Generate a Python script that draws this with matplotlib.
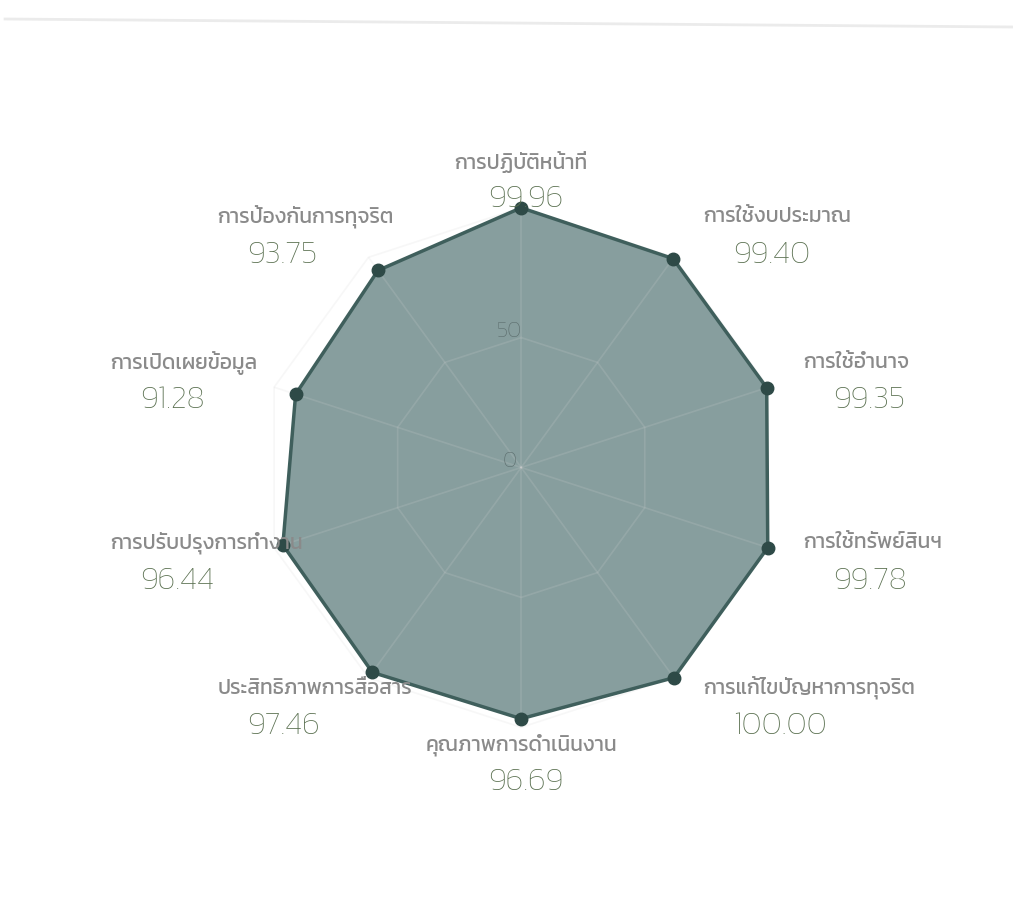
import numpy as np
import matplotlib
matplotlib.use("Agg")
import matplotlib.pyplot as plt
from matplotlib.lines import Line2D

# scores per category, clockwise from the top
categories = [
    "การปฏิบัติหน้าที่",
    "การใช้งบประมาณ",
    "การใช้อำนาจ",
    "การใช้ทรัพย์สินฯ",
    "การแก้ไขปัญหาการทุจริต",
    "คุณภาพการดำเนินงาน",
    "ประสิทธิภาพการสื่อสาร",
    "การปรับปรุงการทำงาน",
    "การเปิดเผยข้อมูล",
    "การป้องกันการทุจริต",
]
scores = [99.96, 99.40, 99.35, 99.78, 100.00, 96.69, 97.46, 96.44, 91.28, 93.75]
grid_levels = [50, 100]
tick_levels = [0, 50]

plt.rcParams['font.family'] = ['Kanit', 'Prompt', 'IBM Plex Sans Thai', 'DejaVu Sans']

FILL = '#879e9e'
EDGE = '#3f5f5c'
POINT = '#2e4a47'
NAME_COLOR = '#8a8a8a'
VALUE_COLOR = '#5a7050'

fig = plt.figure(figsize=(10.13, 9.23), dpi=100)
ax = fig.add_axes([0.258, 0.212, 0.513, 0.563], projection='polar')
ax.set_theta_zero_location('N')
ax.set_theta_direction(-1)
ax.set_ylim(0, 100)
ax.set_axis_off()

n = len(categories)
angles = np.linspace(0, 2 * np.pi, n, endpoint=False)
closed_a = np.append(angles, angles[0])
closed_s = np.append(scores, scores[0])

# data polygon
ax.fill(closed_a, closed_s, color=FILL, zorder=2, clip_on=False)
ax.plot(closed_a, closed_s, color=EDGE, linewidth=2.5, zorder=4, clip_on=False)
ax.plot(angles, scores, 'o', color=POINT, markersize=9, zorder=5, clip_on=False)

# polygon grid on top, faint
for lvl in grid_levels:
    ax.plot(closed_a, [lvl] * (n + 1), color='#d4d4d4', alpha=0.18,
            linewidth=1.2, zorder=3, clip_on=False)
for a in angles:
    ax.plot([a, a], [0, 100], color='#d4d4d4', alpha=0.18, linewidth=1.2, zorder=3)

for lvl in tick_levels:
    ax.annotate(str(lvl), xy=(0, lvl), xytext=(-12, 6), textcoords='offset pixels',
                ha='center', va='center', fontsize=16, fontweight='light',
                color='#5a6b6b', zorder=6)

# point labels: name + value
inv = fig.transFigure.inverted()
for i, (name, val) in enumerate(zip(categories, scores)):
    th = angles[i]
    vx, vy = ax.transData.transform((th, 100))
    s, c = np.sin(th), np.cos(th)
    cy = vy - (4.5 - 31.5 * c)
    name_y = cy + 19
    val_y = cy - 19
    if abs(s) < 0.1:
        ha = 'center'
        name_x = vx
        val_x = vx + 5
    elif s > 0:
        ha = 'left'
        name_x = vx + 20 + 16 * s
        val_x = name_x + 30
    else:
        ha = 'left'
        name_x = vx - 130 - 36 * abs(s)
        val_x = name_x + 30
    fx, fy = inv.transform((name_x, name_y))
    fig.text(fx, fy, name, ha=ha, va='center', fontsize=15,
             fontweight='normal', color=NAME_COLOR)
    fx, fy = inv.transform((val_x, val_y))
    fig.text(fx, fy, f"{val:.2f}", ha=ha, va='center', fontsize=23,
             fontweight='light', color=VALUE_COLOR)

# thin separator at the top
fig.add_artist(Line2D([0.005, 1.0], [1 - 19 / 923, 1 - 27 / 923],
                      transform=fig.transFigure, color='#ebebeb', linewidth=2))

fig.savefig('out.png', dpi=100)
